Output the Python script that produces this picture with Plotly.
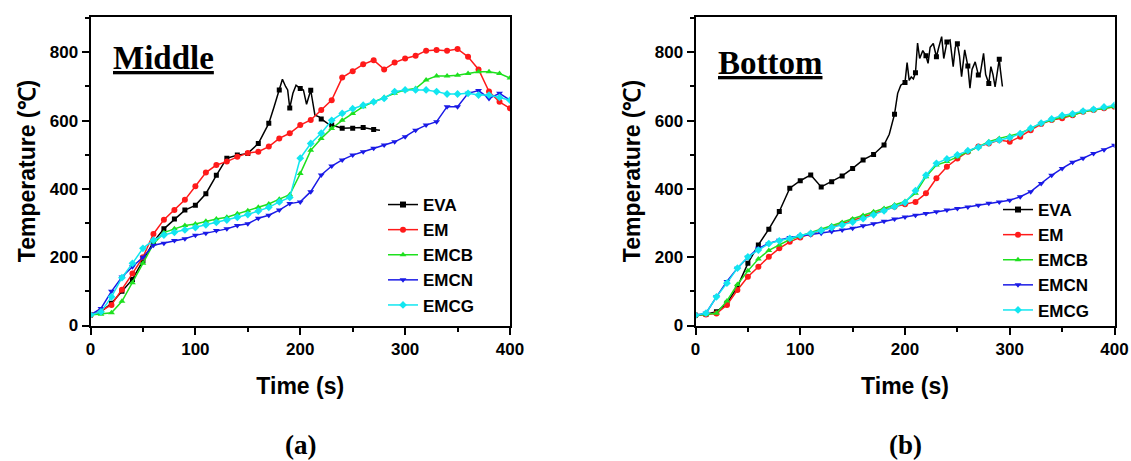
import plotly.graph_objects as go

# ---------------- data ----------------
t10 = list(range(0, 401, 10))

# (a) Middle
eva_mid_t = [0, 10, 20, 30, 40, 50, 60, 70, 80, 90, 100, 110, 120, 130, 140, 150, 160, 170, 175,
             180, 183, 186, 188, 190, 193, 196, 200, 203, 206, 210, 214, 218, 220, 226, 230, 240,
             250, 260, 270, 276]
eva_mid = [31, 40, 65, 100, 135, 190, 245, 283, 312, 338, 352, 386, 440, 490, 499, 504, 533, 592, 640,
           690, 721, 700, 690, 637, 680, 704, 694, 690, 648, 689, 616, 611, 605, 592, 587, 578,
           578, 580, 574, 572]
em_mid = [31, 43, 60, 105, 152, 200, 268, 310, 338, 368, 408, 448, 470, 480, 494, 505, 509, 524, 548,
          563, 587, 602, 631, 660, 726, 745, 765, 777, 750, 770, 782, 790, 805, 807, 805, 810, 787,
          750, 685, 655, 636]
emcb_mid = [31, 33, 37, 71, 125, 182, 239, 272, 283, 293, 297, 305, 312, 317, 327, 336, 346, 356, 370,
            383, 445, 513, 548, 577, 601, 621, 641, 655, 668, 680, 690, 694, 719, 731, 731, 733, 738,
            743, 743, 738, 725]
emcn_mid = [31, 50, 100, 142, 172, 200, 235, 241, 249, 254, 264, 270, 278, 283, 293, 298, 314, 323, 338,
            357, 362, 392, 441, 467, 485, 499, 509, 519, 529, 538, 553, 572, 587, 597, 641, 641, 680,
            688, 665, 680, 660]
emcg_mid = [31, 40, 84, 140, 182, 226, 250, 265, 273, 280, 287, 295, 302, 309, 317, 325, 335, 346, 362,
            375, 490, 533, 563, 601, 621, 635, 645, 655, 665, 685, 690, 690, 690, 685, 678, 678, 680,
            675, 675, 668, 660]

# (b) Bottom
eva_bot_t = [0, 10, 20, 30, 40, 50, 60, 70, 80, 90, 100, 110, 120, 130, 140, 150, 160, 170, 180,
             185, 190, 193, 196, 200, 202, 204, 206, 208, 210, 212, 214, 217, 220, 222, 224, 227, 230,
             232, 235, 237, 240, 243, 246, 248, 250, 252, 254, 257, 260, 262, 264, 267, 270, 272, 275,
             277, 280, 282, 284, 286, 288, 290, 291, 293]
eva_bot = [30, 33, 40, 65, 113, 182, 236, 282, 334, 402, 424, 441, 406, 421, 438, 460, 485, 501, 529,
           560, 619, 680, 704, 712, 770, 718, 728, 722, 740, 827, 782, 805, 790, 768, 815, 826, 787,
           812, 846, 782, 830, 836, 758, 815, 825, 790, 729, 807, 760, 695, 750, 772, 734, 740, 797,
           735, 709, 758, 735, 699, 740, 780, 750, 700]
em_bot = [30, 32, 35, 60, 104, 143, 172, 201, 226, 245, 258, 268, 278, 288, 298, 308, 318, 328, 338,
          348, 355, 362, 387, 431, 465, 489, 509, 524, 533, 543, 538, 553, 572, 590, 602, 607, 616,
          626, 631, 636, 641]
emcb_bot = [30, 32, 36, 72, 120, 160, 195, 220, 236, 252, 262, 272, 282, 292, 302, 312, 322, 333, 343,
            353, 363, 387, 436, 470, 480, 494, 509, 523, 538, 548, 555, 563, 577, 592, 602, 611, 616,
            626, 631, 636, 641]
emcn_bot = [30, 36, 84, 129, 168, 200, 226, 240, 250, 258, 262, 266, 270, 275, 280, 285, 292, 298, 305,
            312, 318, 323, 328, 333, 338, 343, 347, 352, 358, 362, 367, 377, 392, 416, 440, 460, 478,
            490, 504, 515, 528]
emcg_bot = [30, 36, 84, 124, 168, 201, 221, 240, 248, 255, 263, 270, 278, 287, 294, 303, 313, 324, 336,
            348, 360, 395, 440, 475, 488, 500, 512, 522, 535, 543, 550, 562, 578, 593, 605, 615, 620,
            628, 633, 640, 645]

names = ["EVA", "EM", "EMCB", "EMCN", "EMCG"]
colors = ["#000000", "#FF1A1A", "#1EE01E", "#1A1AE6", "#12E6F0"]
symbols = ["square", "circle", "triangle-up", "triangle-down", "diamond"]

SANS = "Liberation Sans, Arial, sans-serif"
SERIF = "Liberation Serif, Times New Roman, serif"

fig = go.Figure()

panels = [
    dict(xa="x", ya="y", leg="legend", eva_t=eva_mid_t, eva=eva_mid,
         others=[em_mid, emcb_mid, emcn_mid, emcg_mid]),
    dict(xa="x2", ya="y2", leg="legend2", eva_t=eva_bot_t, eva=eva_bot,
         others=[em_bot, emcb_bot, emcn_bot, emcg_bot]),
]

for p in panels:
    # EVA: fine line + markers every 10 s + legend proxy
    fig.add_trace(go.Scatter(x=p["eva_t"], y=p["eva"], mode="lines", xaxis=p["xa"], yaxis=p["ya"],
                             line=dict(color=colors[0], width=1.5), showlegend=False,
                             legendgroup=p["leg"] + "EVA", hoverinfo="skip"))
    mt = [t for t in p["eva_t"] if t % 10 == 0]
    mv = [v for t, v in zip(p["eva_t"], p["eva"]) if t % 10 == 0]
    fig.add_trace(go.Scatter(x=mt, y=mv, mode="markers", xaxis=p["xa"], yaxis=p["ya"],
                             marker=dict(color=colors[0], symbol=symbols[0], size=5),
                             showlegend=False, legendgroup=p["leg"] + "EVA", name="EVA"))
    fig.add_trace(go.Scatter(x=[None], y=[None], mode="lines+markers", name="EVA",
                             xaxis=p["xa"], yaxis=p["ya"], legend=p["leg"],
                             legendgroup=p["leg"] + "EVA",
                             line=dict(color=colors[0], width=1.5),
                             marker=dict(color=colors[0], symbol=symbols[0], size=6)))
    for i, vals in enumerate(p["others"], start=1):
        fig.add_trace(go.Scatter(x=t10, y=vals, mode="lines+markers", name=names[i],
                                 xaxis=p["xa"], yaxis=p["ya"], legend=p["leg"],
                                 line=dict(color=colors[i], width=1.5),
                                 marker=dict(color=colors[i], symbol=symbols[i], size=6)))

W, H = 1131, 461
tickfont = dict(family=SANS, size=17, color="black", weight="bold")
titlefont = dict(family=SANS, size=23, color="black", weight="bold")


def xax(domain):
    return dict(domain=domain, range=[0, 400], tick0=0, dtick=100, ticks="outside", ticklen=7,
                tickwidth=2, tickcolor="black", showline=True, linewidth=2, linecolor="black",
                mirror=True, showgrid=False, zeroline=False, tickfont=tickfont, automargin=False,
                minor=dict(ticks="outside", ticklen=4, tickwidth=1.5, dtick=50, tickcolor="black"),
                title=dict(text="Time (s)", font=titlefont, standoff=20))


def yax(anchor):
    return dict(domain=[1 - 325.5 / H, 1 - 16.5 / H], range=[0, 905], tick0=0, dtick=200,
                ticks="outside", ticklen=7, tickwidth=2, tickcolor="black", showline=True,
                linewidth=2, linecolor="black", mirror=True, showgrid=False, zeroline=False,
                tickfont=tickfont, automargin=False, anchor=anchor,
                minor=dict(ticks="outside", ticklen=4, tickwidth=1.5, dtick=100, tickcolor="black"),
                title=dict(text="Temperature (℃)", font=titlefont, standoff=8))


legfont = dict(family=SANS, size=17, color="black", weight="bold")
fig.update_layout(
    width=W, height=H, margin=dict(l=0, r=0, t=0, b=0),
    paper_bgcolor="white", plot_bgcolor="white",
    xaxis=dict(xax([90.5 / W, 510 / W]), anchor="y"),
    yaxis=yax("x"),
    xaxis2=dict(xax([695.5 / W, 1114.5 / W]), anchor="y2"),
    yaxis2=yax("x2"),
    legend=dict(x=383 / W, y=1 - 187 / H, xanchor="left", yanchor="top", font=legfont,
                bgcolor="rgba(0,0,0,0)", tracegroupgap=0, itemwidth=30),
    legend2=dict(x=998 / W, y=1 - 192 / H, xanchor="left", yanchor="top", font=legfont,
                 bgcolor="rgba(0,0,0,0)", tracegroupgap=0, itemwidth=30),
    annotations=[
        dict(text="<u>Middle</u>", x=111 / W, y=1 - 58 / H, xref="paper", yref="paper",
             xanchor="left", yanchor="middle", showarrow=False,
             font=dict(family=SERIF, size=33, color="black", weight="bold")),
        dict(text="<u>Bottom</u>", x=716 / W, y=1 - 63 / H, xref="paper", yref="paper",
             xanchor="left", yanchor="middle", showarrow=False,
             font=dict(family=SERIF, size=33, color="black", weight="bold")),
        dict(text="(a)", x=300 / W, y=1 - 445 / H, xref="paper", yref="paper",
             xanchor="center", yanchor="middle", showarrow=False,
             font=dict(family=SERIF, size=27, color="black", weight="bold")),
        dict(text="(b)", x=905 / W, y=1 - 445 / H, xref="paper", yref="paper",
             xanchor="center", yanchor="middle", showarrow=False,
             font=dict(family=SERIF, size=27, color="black", weight="bold")),
    ],
)

fig.write_html("out.html")
